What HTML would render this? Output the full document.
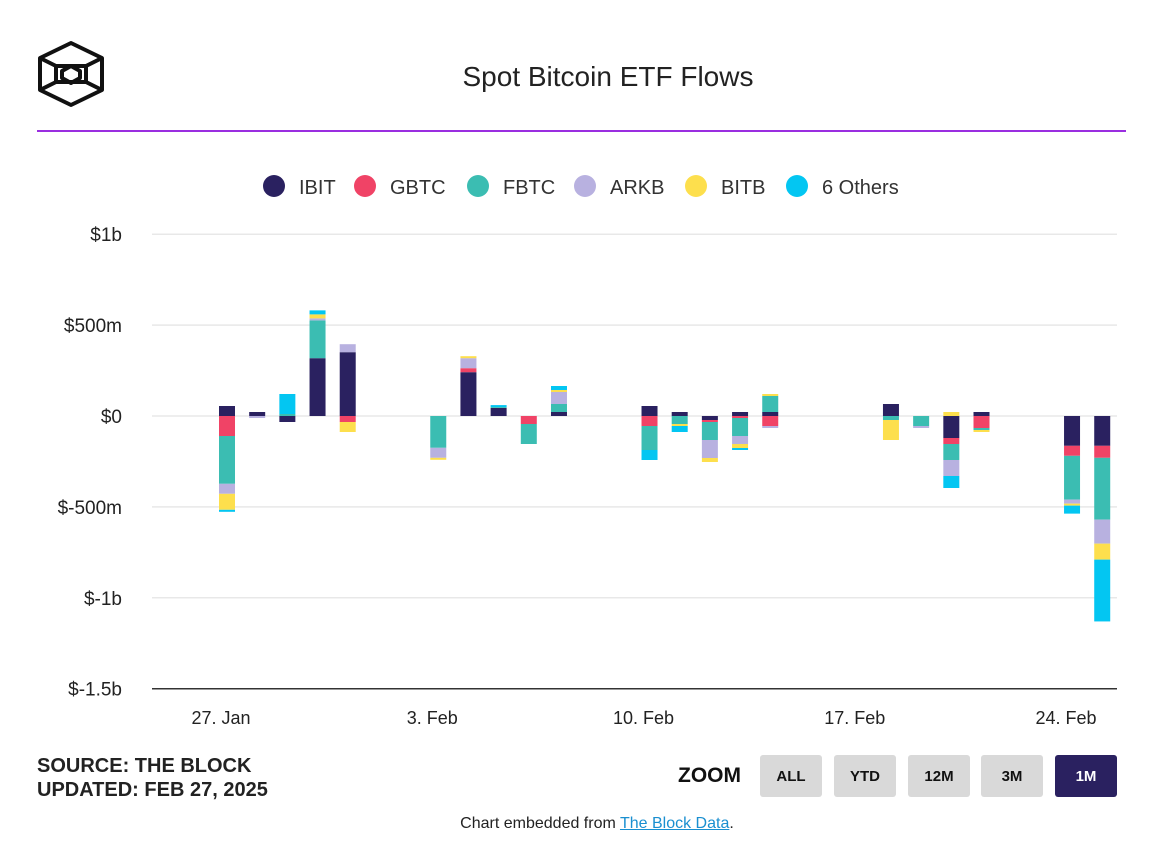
<!DOCTYPE html>
<html><head><meta charset="utf-8"><style>
body{margin:0;width:1162px;height:850px;background:#fff;font-family:"Liberation Sans",sans-serif;overflow:hidden;position:relative}
.btn{position:absolute;top:755px;width:62px;height:42px;background:#d9d9d9;border-radius:3px;font-weight:bold;font-size:15px;display:flex;align-items:center;justify-content:center;color:#111}
</style></head><body>
<svg style="position:absolute;left:36px;top:40px" width="70" height="68" viewBox="0 0 70 68">
<g fill="none" stroke="#111" stroke-width="4" stroke-linejoin="round">
<polygon points="35,3 66,18 66,50 35,65 4,50 4,18"/>
<polyline points="4,18 20,26 50,26 66,18"/><polyline points="4,50 20,42 50,42 66,50"/>
<line x1="20" y1="26" x2="20" y2="42"/><line x1="50" y1="26" x2="50" y2="42"/>
<polygon points="35,26 44,31 44,38 35,43 26,38 26,31"/>
</g></svg>
<div style="position:absolute;left:0;width:1216px;top:61px;text-align:center;font-size:28px;color:#222">Spot Bitcoin ETF Flows</div>
<div style="position:absolute;left:37px;width:1089px;top:130px;height:2px;background:#9a2ee0"></div>
<svg id="chart" style="position:absolute;left:0;top:0" width="1162" height="740"></svg>
<div style="position:absolute;left:37px;top:754px;font-weight:bold;font-size:20px;color:#222;line-height:24px">SOURCE: THE BLOCK<br>UPDATED: FEB 27, 2025</div>
<div style="position:absolute;left:678px;top:764px;font-weight:bold;font-size:21px;color:#111">ZOOM</div>
<div class="btn" style="left:760px">ALL</div>
<div class="btn" style="left:834px">YTD</div>
<div class="btn" style="left:908px">12M</div>
<div class="btn" style="left:981px">3M</div>
<div class="btn" style="left:1055px;background:#2a2160;color:#fff">1M</div>
<div style="position:absolute;left:0;width:1194px;top:815px;text-align:center;font-size:16px;color:#222">Chart embedded from <span style="color:#1a8fd0;text-decoration:underline">The Block Data</span>.</div>
<script>
const seriesNames=["IBIT","GBTC","FBTC","ARKB","BITB","6 Others"];
const colors=["#2a2160","#f04366","#3bbdb2","#b8b1e0","#fddf4d","#03c6f2"];
const dayIndex=[0,1,2,3,4,7,8,9,10,11,14,15,16,17,18,22,23,24,25,28,29];
const IBIT=[55,22,-33,318,351,0,241,44,0,22,55,22,-22,22,22,66,0,-121,22,-164,-164];
const GBTC=[-110,0,0,0,-33,0,22,0,-44,0,-55,0,-11,-11,-55,0,0,-33,-66,-55,-66];
const FBTC=[-263,0,11,208,0,-175,0,5,-110,44,-132,-44,-99,-99,88,-22,-55,-88,-11,-241,-340];
const ARKB=[-55,-11,0,11,44,-55,55,0,0,66,0,0,-99,-44,-11,0,-11,-88,0,-22,-132];
const BITB=[-88,0,0,22,-55,-11,11,0,0,11,0,-11,-22,-22,11,-110,0,22,-11,-11,-88];
const OTHERS=[-11,0,110,22,0,0,0,11,0,22,-55,-33,0,-11,0,0,0,-66,0,-44,-340];
const yTicks=[1000,500,0,-500,-1000,-1500];
const yTickLabels=["$1b","$500m","$0","$-500m","$-1b","$-1.5b"];
const xTickDays=[0,7,14,21,28];
const xTickLabels=["27. Jan","3. Feb","10. Feb","17. Feb","24. Feb"];
const series=[IBIT,GBTC,FBTC,ARKB,BITB,OTHERS];
const svg=document.getElementById('chart');const NS="http://www.w3.org/2000/svg";
const y=v=>416-v*0.1818;const x=d=>227+d*30.18;
function mk(t,a){const e=document.createElementNS(NS,t);for(const k in a)e.setAttribute(k,a[k]);svg.appendChild(e);return e;}
yTicks.forEach((v,i)=>{
 const g=mk('line',{x1:152,x2:1117,y1:y(v),y2:y(v),stroke:v===-1500?'#333':'#e8e8e8','stroke-width':1.5});
 
 
 const t=mk('text',{x:122,y:y(v)+7,'text-anchor':'end','font-size':19,fill:'#222'});t.textContent=yTickLabels[i];
 
 
});
xTickDays.forEach((d,i)=>{const t=mk('text',{x:x(d)-6,y:724,'text-anchor':'middle','font-size':18,fill:'#222'});t.textContent=xTickLabels[i];
 
 });
dayIndex.forEach((d,j)=>{let pos=0,neg=0;
 series.forEach((s,k)=>{const v=s[j];if(!v)return;let y0,y1;
  if(v>0){y0=y(pos+v);y1=y(pos);pos+=v;}else{y0=y(neg);y1=y(neg+v);neg+=v;}
  const r=mk('rect',{x:x(d)-8,y:y0,width:16,height:y1-y0,fill:colors[k]});
  
  
 });});
let lx=[263,354,467,574,685,786];
seriesNames.forEach((n,i)=>{const c=mk('circle',{cx:lx[i]+11,cy:186,r:11,fill:colors[i]});
 
 
 const t=mk('text',{x:lx[i]+36,y:194,'font-size':20,fill:'#333'});t.textContent=n;
 
 });
</script>
</body></html>
